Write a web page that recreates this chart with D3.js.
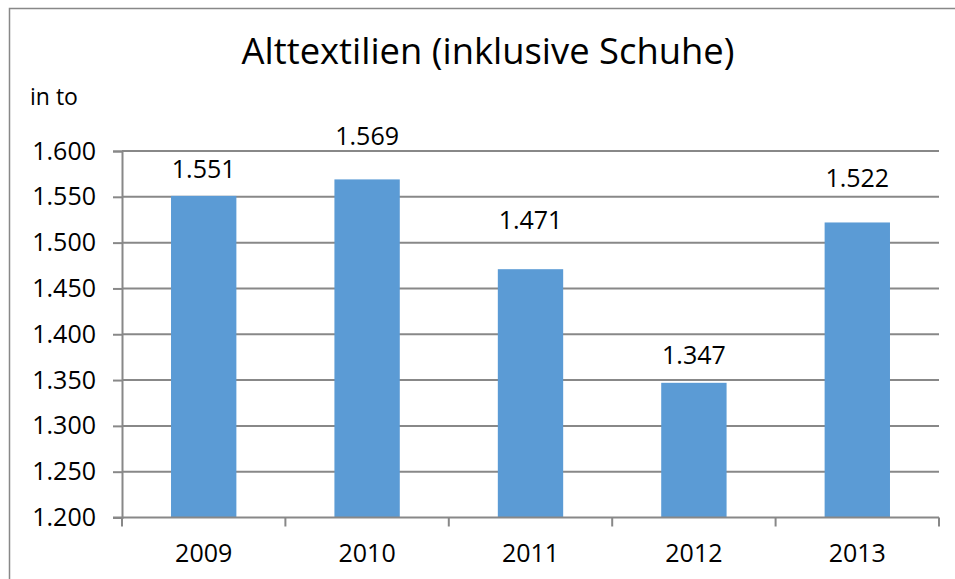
<!DOCTYPE html>
<html><head><meta charset="utf-8">
<script src="https://cdn.jsdelivr.net/npm/d3@7"></script>
<style>body{margin:0;background:#fff}svg{display:block}text{font-family:"Open Sans",sans-serif;fill:#000}</style>
</head><body><svg id="c" width="955" height="579"></svg>
<script>
const categories = ["2009","2010","2011","2012","2013"];
const values = [1551,1569,1471,1347,1522];
const yTicks = [1200,1250,1300,1350,1400,1450,1500,1550,1600];
const title = "Alttextilien (inklusive Schuhe)";
const unitLabel = "in to";
// label distance above bar top (px), as placed in the original
const labelGap = [18,34,40,19,35];

const svg = d3.select("#c");
const fmt = v => d3.format(",")(v).replace(/,/g,".");
const m = {l:122, r:939, t:151, b:517.5};
const FS = 25;

svg.append("rect").attr("x",9.5).attr("y",8.5).attr("width",1000).attr("height",1000)
  .attr("fill","none").attr("stroke","#888").attr("stroke-width",1.5);

const x = d3.scaleBand().domain(categories).range([m.l,m.r]).paddingInner(0.6).paddingOuter(0.3);
const y = d3.scaleLinear().domain([1200,1600]).range([m.b,m.t]);

svg.append("g").selectAll("line").data(yTicks.slice(1)).join("line")
  .attr("x1",m.l).attr("x2",m.r).attr("y1",d=>y(d)).attr("y2",d=>y(d))
  .attr("stroke","#888").attr("stroke-width",2);

svg.append("g").selectAll("rect").data(values).join("rect")
  .attr("x",(d,i)=>x(categories[i])).attr("width",x.bandwidth())
  .attr("y",d=>y(d)).attr("height",d=>m.b-y(d)).attr("fill","#5B9BD5");

const ya = svg.append("g").attr("transform",`translate(${m.l},0)`)
  .call(d3.axisLeft(y).tickValues(yTicks).tickFormat(fmt).tickSize(9).tickPadding(17));
ya.select(".domain").attr("stroke","#888").attr("stroke-width",2);
ya.selectAll(".tick line").attr("stroke","#888").attr("stroke-width",2);
ya.selectAll(".tick text").attr("font-size",FS).attr("font-family","'Open Sans',sans-serif").attr("fill","#000");

const xa = svg.append("g").attr("transform",`translate(0,${m.b})`);
xa.append("line").attr("x1",m.l-9).attr("x2",m.r).attr("y1",0).attr("y2",0).attr("stroke","#888").attr("stroke-width",2);
const bounds = d3.range(categories.length+1).map(i=>m.l+i*(m.r-m.l)/categories.length);
xa.selectAll("line.t").data(bounds).join("line").attr("class","t")
  .attr("x1",d=>d).attr("x2",d=>d).attr("y1",0).attr("y2",9).attr("stroke","#888").attr("stroke-width",2);
xa.selectAll("text").data(categories).join("text")
  .attr("x",d=>x(d)+x.bandwidth()/2).attr("y",44).attr("text-anchor","middle").attr("font-size",FS).text(d=>d);

svg.append("g").selectAll("text").data(values).join("text")
  .attr("x",(d,i)=>x(categories[i])+x.bandwidth()/2).attr("y",(d,i)=>y(d)-labelGap[i])
  .attr("text-anchor","middle").attr("font-size",FS).text(d=>fmt(d));

const t = svg.append("text").attr("x",488).attr("y",64).attr("text-anchor","middle").attr("font-size",34).text(title);
const w = t.node().getComputedTextLength();
t.attr("font-size",34*493/w);
svg.append("text").attr("x",30).attr("y",105).attr("font-size",23).text(unitLabel);
</script></body></html>
